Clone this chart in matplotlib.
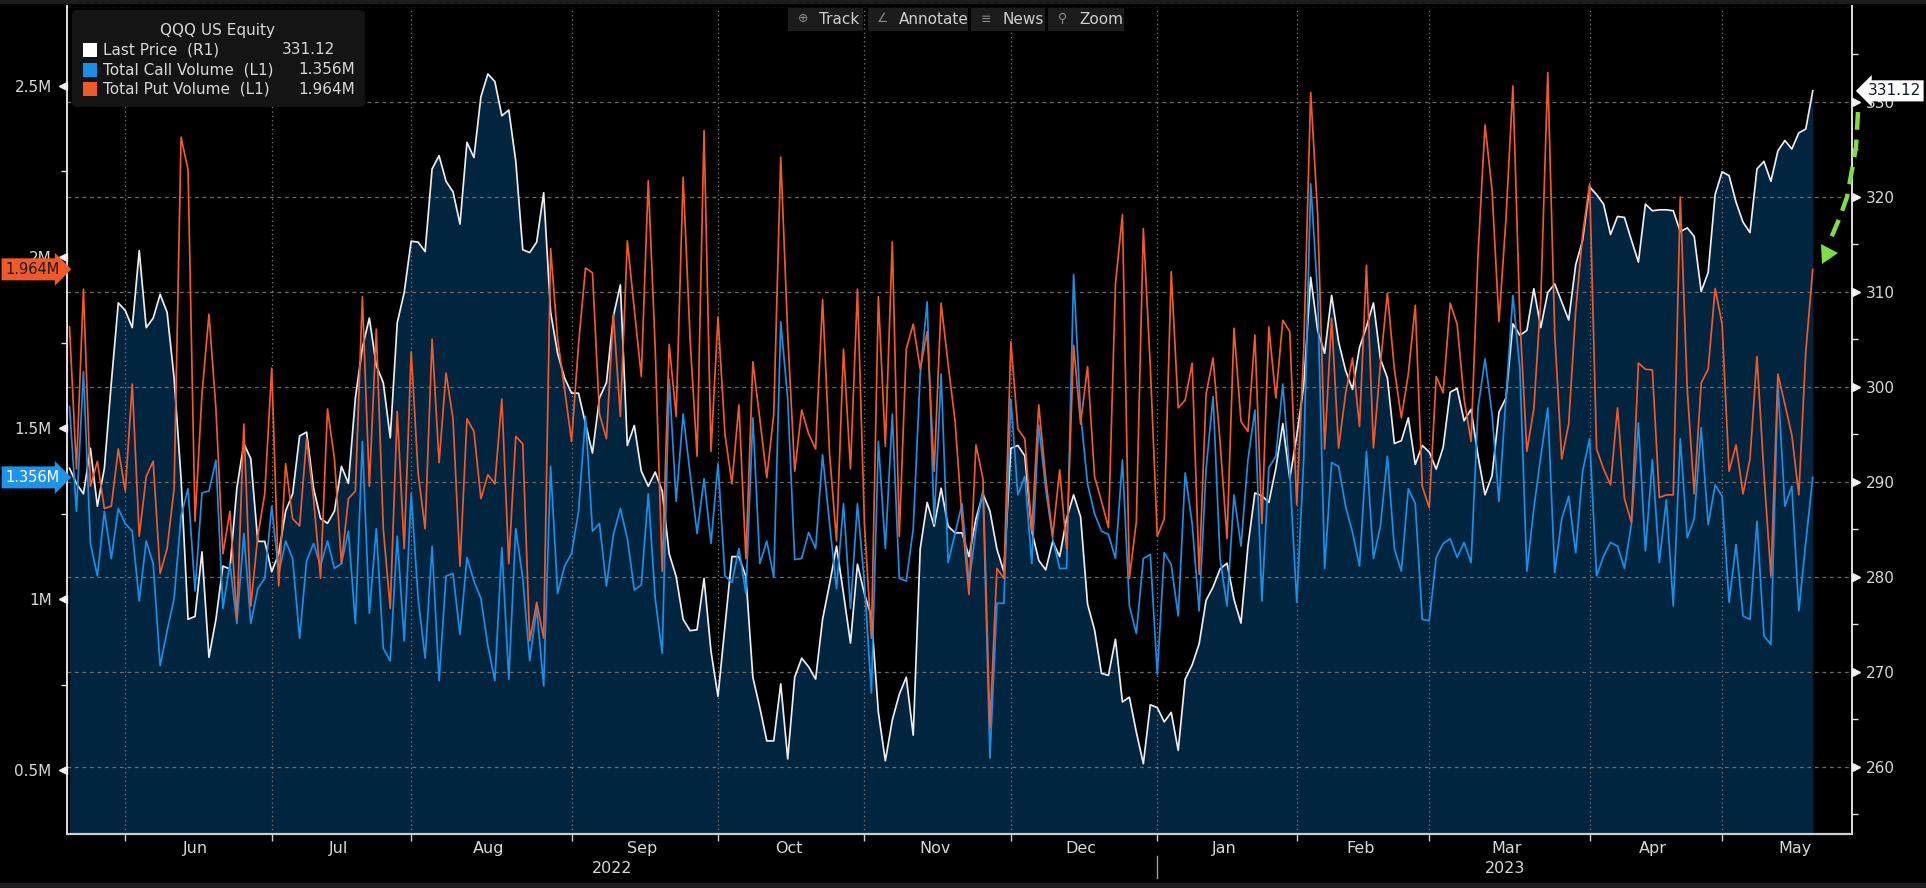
import matplotlib
matplotlib.use('Agg')
import matplotlib.pyplot as plt
import matplotlib.transforms as mtransforms
from matplotlib.patches import Rectangle, FancyBboxPatch, Polygon
from matplotlib.lines import Line2D
import numpy as np
import pandas as pd

W, H = 1926, 888

# trading calendar (US market holidays in the window)
holidays = ['2022-05-30', '2022-06-20', '2022-07-04', '2022-09-05', '2022-11-24',
            '2022-12-26', '2023-01-02', '2023-01-16', '2023-02-20', '2023-04-07']
dates = pd.bdate_range('2022-05-19', '2023-05-18', freq='C', holidays=holidays)

# QQQ US Equity - last price (R1)
last_price = [
    291.4, 289.8, 288.7, 293.5, 287.4, 291.4, 300.4, 308.8, 308.0, 306.2,
    314.3, 306.2, 307.2, 309.7, 307.8, 300.9, 290.3, 275.5, 275.8, 282.6,
    271.5, 275.5, 281.1, 280.8, 289.3, 294.0, 292.4, 283.7, 283.7, 280.5,
    282.4, 286.9, 288.7, 294.8, 295.2, 289.3, 286.1, 285.6, 286.9, 291.6,
    289.8, 298.8, 304.1, 307.2, 302.2, 300.4, 294.6, 306.7, 309.9, 315.3,
    315.2, 314.2, 322.9, 324.3, 321.6, 320.5, 317.1, 325.7, 324.1, 330.5,
    332.9, 332.1, 328.5, 329.1, 323.7, 314.4, 314.1, 315.2, 320.4, 307.8,
    303.5, 300.9, 299.3, 299.3, 296.1, 293.0, 298.8, 300.4, 307.4, 310.7,
    293.8, 295.9, 291.1, 289.5, 291.0, 289.0, 282.4, 280.0, 275.5, 274.3,
    274.4, 279.8, 272.1, 267.4, 274.7, 282.1, 282.1, 280.0, 269.4, 266.2,
    262.7, 262.7, 268.7, 260.8, 269.4, 271.4, 270.5, 269.2, 275.5, 279.2,
    283.2, 278.2, 273.0, 281.3, 278.2, 275.8, 265.7, 260.6, 264.9, 267.6,
    269.4, 263.3, 282.9, 287.8, 285.3, 289.3, 285.3, 284.6, 284.6, 282.1,
    286.1, 288.7, 286.9, 282.9, 280.5, 293.5, 293.8, 292.7, 284.8, 281.7,
    280.7, 283.7, 282.1, 286.1, 288.6, 286.3, 277.1, 274.4, 269.8, 269.6,
    273.4, 266.8, 267.3, 263.6, 260.3, 266.5, 266.2, 264.7, 265.7, 261.7,
    269.2, 270.7, 272.9, 277.5, 278.9, 280.8, 281.4, 277.6, 275.1, 283.2,
    288.8, 288.5, 287.8, 291.4, 296.1, 290.3, 294.8, 300.1, 311.5, 305.9,
    303.5, 309.6, 304.7, 301.7, 299.7, 304.1, 306.3, 308.8, 302.9, 300.9,
    294.0, 294.3, 296.7, 291.8, 293.8, 293.1, 291.3, 293.6, 299.4, 299.8,
    296.4, 297.6, 292.7, 288.6, 290.6, 297.3, 298.8, 306.6, 305.4, 305.9,
    310.3, 306.2, 309.9, 310.8, 308.9, 307.0, 312.8, 315.4, 321.0, 320.2,
    319.2, 316.0, 317.9, 317.8, 315.4, 313.1, 319.2, 318.5, 318.6, 318.6,
    318.5, 316.3, 316.7, 315.8, 310.0, 312.0, 320.2, 322.6, 322.2, 319.4,
    317.3, 316.2, 322.9, 323.7, 321.6, 324.8, 325.9, 325.0, 326.7, 327.1,
    331.12,
]

# Total call volume (L1), millions
call_volume = [
    1.563, 1.257, 1.665, 1.163, 1.068, 1.257, 1.119, 1.265, 1.221, 1.199,
    0.995, 1.170, 1.104, 0.806, 0.908, 1.002, 1.243, 1.323, 1.024, 1.311,
    1.316, 1.406, 0.973, 1.104, 0.929, 1.192, 0.929, 1.031, 1.061, 1.272,
    1.075, 1.170, 1.119, 0.886, 1.112, 1.163, 1.097, 1.170, 1.090, 1.104,
    1.199, 0.929, 1.461, 0.959, 1.206, 0.857, 0.820, 1.184, 0.878, 1.308,
    1.002, 0.828, 1.155, 0.762, 1.068, 1.075, 0.897, 1.122, 1.053, 1.002,
    0.864, 0.762, 1.151, 0.766, 1.206, 1.061, 0.820, 0.973, 0.747, 1.388,
    1.017, 1.097, 1.133, 1.257, 1.534, 1.199, 1.221, 1.039, 1.189, 1.265,
    1.177, 1.027, 1.042, 1.308, 1.002, 0.842, 1.643, 1.286, 1.541, 1.367,
    1.192, 1.352, 1.163, 1.396, 1.068, 1.049, 1.148, 1.017, 1.530, 1.104,
    1.170, 1.064, 1.811, 1.585, 1.116, 1.119, 1.195, 1.148, 1.422, 1.221,
    1.031, 1.279, 0.973, 1.279, 1.046, 0.726, 1.461, 1.148, 1.541, 1.061,
    1.053, 1.206, 1.658, 1.869, 1.221, 1.658, 1.107, 1.192, 1.279, 1.046,
    1.206, 1.320, 0.536, 0.988, 0.988, 1.585, 1.305, 1.359, 1.104, 1.509,
    1.323, 1.177, 1.090, 1.090, 1.949, 1.541, 1.337, 1.250, 1.199, 1.189,
    1.119, 1.407, 0.980, 0.900, 1.119, 1.131, 0.781, 1.136, 1.101, 0.951,
    1.369, 1.221, 0.966, 1.381, 1.592, 1.119, 0.980, 1.305, 1.155, 1.407,
    1.553, 0.995, 1.384, 1.418, 1.629, 1.367, 0.991, 1.410, 2.214, 1.891,
    1.090, 1.399, 1.388, 1.272, 1.195, 1.097, 1.432, 1.119, 1.214, 1.418,
    1.148, 1.082, 1.323, 1.279, 0.941, 0.937, 1.122, 1.163, 1.177, 1.122,
    1.166, 1.107, 1.559, 1.702, 1.541, 1.286, 1.585, 1.888, 1.672, 1.082,
    1.265, 1.418, 1.559, 1.078, 1.235, 1.301, 1.136, 1.374, 1.469, 1.068,
    1.126, 1.166, 1.155, 1.090, 1.221, 1.515, 1.141, 1.407, 1.107, 1.291,
    0.980, 1.469, 1.180, 1.235, 1.501, 1.218, 1.334, 1.301, 0.991, 1.160,
    0.951, 0.941, 1.228, 0.893, 0.868, 1.629, 1.272, 1.330, 0.966, 1.166,
    1.356,
]

# Total put volume (L1), millions
put_volume = [
    1.796, 1.381, 1.906, 1.330, 1.403, 1.265, 1.272, 1.439, 1.316, 1.629,
    1.184, 1.359, 1.403, 1.075, 1.148, 1.323, 2.350, 2.255, 1.228, 1.600,
    1.833, 1.556, 1.133, 1.257, 0.944, 1.512, 0.980, 1.184, 1.308, 1.675,
    1.039, 1.396, 1.235, 1.214, 1.469, 1.294, 1.061, 1.556, 1.410, 1.104,
    1.294, 1.316, 1.884, 1.330, 1.789, 1.206, 0.973, 1.549, 1.148, 1.723,
    1.367, 1.206, 1.760, 1.399, 1.661, 1.527, 1.097, 1.527, 1.490, 1.294,
    1.364, 1.337, 1.585, 1.104, 1.476, 1.454, 0.878, 0.991, 0.886, 2.025,
    1.760, 1.614, 1.461, 1.745, 1.968, 1.954, 1.541, 1.469, 1.833, 1.534,
    2.047, 1.847, 1.651, 2.223, 1.731, 1.082, 1.745, 1.534, 2.233, 1.760,
    1.418, 2.369, 1.432, 1.825, 1.483, 1.337, 1.568, 1.119, 1.694, 1.527,
    1.355, 1.541, 2.292, 1.774, 1.374, 1.553, 1.483, 1.439, 1.876, 1.425,
    1.170, 1.731, 1.381, 1.906, 1.221, 0.886, 1.884, 1.447, 2.044, 1.184,
    1.731, 1.804, 1.673, 1.782, 1.374, 1.865, 1.687, 1.520, 1.235, 1.014,
    1.451, 1.352, 0.624, 1.090, 1.061, 1.753, 1.498, 1.469, 1.199, 1.568,
    1.352, 1.184, 1.378, 1.148, 1.742, 1.512, 1.680, 1.359, 1.286, 1.209,
    1.920, 2.124, 1.061, 1.228, 2.083, 1.680, 1.184, 1.235, 1.957, 1.559,
    1.582, 1.690, 1.072, 1.600, 1.705, 1.461, 1.177, 1.792, 1.520, 1.490,
    1.772, 1.221, 1.796, 1.588, 1.815, 1.782, 1.276, 1.731, 2.481, 2.124,
    1.439, 1.821, 1.442, 1.600, 1.705, 1.505, 1.976, 1.442, 1.687, 1.894,
    1.672, 1.530, 1.658, 1.859, 1.330, 1.267, 1.651, 1.603, 1.865, 1.804,
    1.585, 1.461, 2.008, 2.386, 2.197, 1.811, 2.110, 2.500, 1.819, 1.432,
    1.556, 1.876, 2.539, 1.774, 1.410, 1.512, 1.840, 2.066, 2.214, 1.439,
    1.381, 1.334, 1.559, 1.294, 1.224, 1.690, 1.672, 1.670, 1.297, 1.305,
    1.305, 2.175, 1.614, 1.308, 1.632, 1.672, 1.908, 1.804, 1.374, 1.451,
    1.308, 1.410, 1.709, 1.367, 1.068, 1.658, 1.570, 1.480, 1.305, 1.723,
    1.964,
]

month_labels = ['Jun', 'Jul', 'Aug', 'Sep', 'Oct', 'Nov', 'Dec',
                'Jan', 'Feb', 'Mar', 'Apr', 'May']
year_labels = ['2022', '2023']
price_ticks = [260, 270, 280, 290, 300, 310, 320, 330]
volume_ticks = [0.5, 1.0, 1.5, 2.0, 2.5]
volume_tick_labels = ['0.5M', '1M', '1.5M', '2M', '2.5M']

assert len(dates) == len(last_price) == len(call_volume) == len(put_volume)

WHITE = '#ececec'
BLUE = '#1a8fe6'
ORANGE = '#f05a28'
NAVY = '#01243f'
GRID = '#6a6a6a'
TXT = '#d8d8d8'


def fx(x):
    return x / W


def fy(y):
    return 1 - y / H


x = np.arange(len(dates))
month_start = [i for i in range(1, len(dates)) if dates[i].month != dates[i - 1].month]
year_start = [i for i in month_start if dates[i].month == 1]

fig = plt.figure(figsize=(W / 100, H / 100), dpi=100, facecolor='black')
ax_left, ax_right, ax_top, ax_bot = 67, 1852, 6.5, 834
ax = fig.add_axes([fx(ax_left), fy(ax_bot), (ax_right - ax_left) / W, (ax_bot - ax_top) / H])
ax2 = ax.twinx()
ax.set_zorder(ax2.get_zorder() + 1)
ax.patch.set_visible(False)
ax2.patch.set_visible(False)

px_per_day = 6.973
ax.set_xlim(-(69.5 - ax_left) / px_per_day, (ax_right - 69.5) / px_per_day)
ax.set_ylim(0.314, 2.732)
ax2.set_ylim(252.9, 340.0)

# price area + line (right axis)
ax2.fill_between(x, last_price, 252.9, color=NAVY, lw=0, zorder=1)
for p in price_ticks + [340]:
    ax2.axhline(p, color=GRID, lw=0.9, ls=(0, (3, 3)), zorder=2)
for i in month_start:
    ax2.axvline(i, color='#7a7a7a', lw=0.9, ls=(0, (1, 2.5)), zorder=2)
ax2.plot(x, last_price, color=WHITE, lw=1.25, zorder=3)

# volumes (left axis)
ax.plot(x, call_volume, color=BLUE, lw=1.25, zorder=3)
ax.plot(x, put_volume, color=ORANGE, lw=1.25, zorder=4)

# spines
for s in ['top', 'right']:
    ax.spines[s].set_visible(False)
for s in ['top', 'left', 'bottom']:
    ax2.spines[s].set_visible(False)
ax.spines['left'].set_color('#e0e0e0')
ax.spines['left'].set_linewidth(1.4)
ax.spines['bottom'].set_color('#cfcfcf')
ax.spines['bottom'].set_linewidth(1.6)
ax2.spines['right'].set_color('#e0e0e0')
ax2.spines['right'].set_linewidth(1.4)

# left ticks
ax.set_yticks(volume_ticks)
ax.set_yticklabels(volume_tick_labels)
ax.set_yticks([0.75, 1.25, 1.75, 2.25], minor=True)
ax.tick_params(axis='y', which='major', length=0, pad=11, labelsize=11, labelcolor=TXT)
ax.tick_params(axis='y', which='minor', length=4, color='#e0e0e0', width=1)
tl = mtransforms.blended_transform_factory(ax.transAxes, ax.transData)
ax.plot(np.full(len(volume_ticks), -0.0025), volume_ticks, transform=tl, ls='none',
        marker='<', ms=6, color='#f0f0f0', clip_on=False, zorder=6)

# right ticks
ax2.set_yticks(price_ticks)
ax2.set_yticks([255, 265, 275, 285, 295, 305, 315, 325, 335], minor=True)
ax2.tick_params(axis='y', which='major', length=0, pad=10, labelsize=11, labelcolor=TXT)
ax2.tick_params(axis='y', which='minor', length=4, color='#e0e0e0', width=1)
tr = mtransforms.blended_transform_factory(ax2.transAxes, ax2.transData)
ax2.plot(np.full(len(price_ticks), 1.0025), price_ticks, transform=tr, ls='none',
         marker='>', ms=6, color='#f0f0f0', clip_on=False, zorder=6)

# x axis: month boundary ticks, centred month names, years
ax.set_xticks(month_start)
ax.set_xticklabels([])
ax.tick_params(axis='x', length=5, color='#cfcfcf', width=1)
ax2.tick_params(axis='x', length=0)
tx = mtransforms.blended_transform_factory(ax.transData, ax.transAxes)
label_pos = [(month_start[k] + month_start[k + 1]) / 2 - 0.4 for k in range(len(month_start) - 1)]
label_pos.append(month_start[-1] + 10.5)
cond = ['Liberation Sans Narrow', 'DejaVu Sans']
for pos, lab in zip(label_pos, month_labels):
    ax.text(pos, -(848 - ax_bot) / (ax_bot - ax_top), lab, transform=tx, ha='center', va='center',
            fontsize=11.5, color=TXT, family=cond)
xmin, xmax = ax.get_xlim()
year_pos = [(xmin + year_start[0]) / 2, (year_start[0] + xmax) / 2]
for pos, lab in zip(year_pos, year_labels):
    ax.text(pos, -(868 - ax_bot) / (ax_bot - ax_top), lab, transform=tx, ha='center', va='center',
            fontsize=11.5, color=TXT, family=cond)
for i in year_start:
    ax.add_line(Line2D([i, i], [-(856 - ax_bot) / (ax_bot - ax_top), -(878 - ax_bot) / (ax_bot - ax_top)],
                       transform=tx, color='#9a9a9a', lw=1, clip_on=False))

# last value tags
ax.text(-0.0195, put_volume[-1], f'{put_volume[-1]:.3f}M', transform=tl, ha='center', va='center',
        fontsize=10.5, color='#1a1a1a', clip_on=False, zorder=10,
        bbox=dict(boxstyle='rarrow,pad=0.24', fc=ORANGE, ec='none'))
ax.text(-0.0195, call_volume[-1], f'{call_volume[-1]:.3f}M', transform=tl, ha='center', va='center',
        fontsize=10.5, color='white', clip_on=False, zorder=10,
        bbox=dict(boxstyle='rarrow,pad=0.24', fc='#1e93ea', ec='none'))
ax2.text(1.0235, last_price[-1], f'{last_price[-1]:.2f}', transform=tr, ha='center', va='center',
         fontsize=11, color='#101828', clip_on=False, zorder=10,
         bbox=dict(boxstyle='larrow,pad=0.2', fc='white', ec='none'))

# legend box
fig.add_artist(FancyBboxPatch((fx(72), fy(107)), (365 - 72) / W, (107 - 10) / H,
                              boxstyle='round,pad=0,rounding_size=0.004', transform=fig.transFigure,
                              fc='#141414', ec='none', zorder=20))
fig.text(fx(217), fy(31), 'QQQ US Equity', ha='center', va='center', fontsize=11, color=TXT, zorder=21)
rows = [('Last Price  (R1)', f'{last_price[-1]:.2f}', 'white', 335, 50),
        ('Total Call Volume  (L1)', f'{call_volume[-1]:.3f}M', BLUE, 355, 70),
        ('Total Put Volume  (L1)', f'{put_volume[-1]:.3f}M', ORANGE, 355, 89)]
for name, val, col, xr, yc in rows:
    fig.add_artist(Rectangle((fx(83), fy(yc + 7)), 14 / W, 14 / H, transform=fig.transFigure,
                             fc=col, ec='none', zorder=21))
    fig.text(fx(103), fy(yc), name, ha='left', va='center', fontsize=11, color=TXT, zorder=21)
    fig.text(fx(xr), fy(yc), val, ha='right', va='center', fontsize=11, color=TXT, zorder=21)

# toolbar
buttons = [('⊕', 'Track', 788, 863), ('∠', 'Annotate', 868, 968),
           ('≡', 'News', 971, 1045), ('⚲', 'Zoom', 1048, 1124)]
for icon, lab, x0, x1 in buttons:
    fig.add_artist(Rectangle((fx(x0), fy(31)), (x1 - x0) / W, 23 / H, transform=fig.transFigure,
                             fc='#1c1c1c', ec='none', zorder=20))
    fig.text(fx(x0 + 15), fy(19), icon, ha='center', va='center', fontsize=9, color='#8a8a8a', zorder=21)
    fig.text(fx(x0 + 31), fy(19), lab, ha='left', va='center', fontsize=11, color='#cfcfcf', zorder=21)

# frame strips
fig.add_artist(Rectangle((0, fy(4)), 1, 4 / H, transform=fig.transFigure, fc='#1d1d1f', ec='none', zorder=19))
fig.add_artist(Rectangle((0, 0), 1, 5 / H, transform=fig.transFigure, fc='#1d1d1f', ec='none', zorder=19))

# green dashed annotation arrow
gx = [1858, 1856, 1852, 1847, 1840, 1831]
gy = [112, 147, 170, 197, 217, 238]
fig.add_artist(Line2D([fx(v) for v in gx], [fy(v) for v in gy], transform=fig.transFigure,
                      color='#7fdc45', lw=3.2, ls=(0, (4, 2.2)), zorder=22))
fig.add_artist(Polygon([(fx(1821), fy(244)), (fx(1838), fy(253)), (fx(1822), fy(264))],
                       closed=True, transform=fig.transFigure, fc='#7fdc45', ec='none', zorder=22))

fig.savefig('out.png', dpi=100, facecolor='black')
